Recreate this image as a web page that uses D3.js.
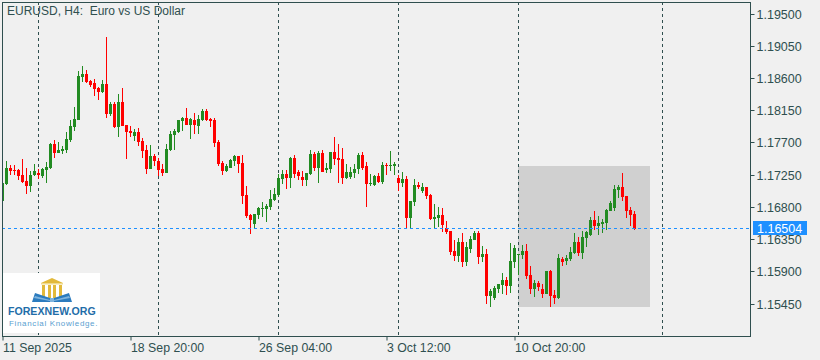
<!DOCTYPE html>
<html><head><meta charset="utf-8">
<script src="https://cdn.jsdelivr.net/npm/d3@7/dist/d3.min.js"></script>
<style>
html,body{margin:0;padding:0;background:#F0F0F0;overflow:hidden}
svg{display:block}
text{font-family:"Liberation Sans",Arial,sans-serif;font-size:12px;fill:#2F4F4F}
</style></head><body>
<svg id="c" width="820" height="360"></svg>
<script>
const symbolTitle = "EURUSD, H4:  Euro vs US Dollar";
const priceTicks = [1.195,1.1905,1.186,1.1815,1.177,1.1725,1.168,1.1635,1.159,1.1545];
const timeTickIndex = [0,32,64,96,128];
const timeTickLabels = ["11 Sep 2025","18 Sep 20:00","26 Sep 04:00","3 Oct 12:00","10 Oct 20:00"];
const periodIndex = [9,39,69,99,129,165];
const boxStartIndex = 129, boxEndIndex = 162, boxHigh = 1.17378, boxLow = 1.15409;
const lastPrice = 1.16504;

const open = [1.16889,1.17127,1.17350,1.17322,1.17322,1.17252,1.17169,1.17099,1.17252,1.17280,1.17238,1.17322,1.17350,1.17685,1.17559,1.17587,1.17601,1.17741,1.17923,1.18020,
1.18620,1.18662,1.18565,1.18537,1.18467,1.18411,1.18523,1.18104,1.18243,1.17923,1.18271,1.17950,1.17867,1.17797,1.17853,1.17727,1.17601,1.17336,1.17518,1.17448,
1.17336,1.17280,1.17601,1.17811,1.17853,1.18006,1.18048,1.17950,1.18020,1.17936,1.18020,1.18146,1.18034,1.18020,1.17713,1.17420,1.17308,1.17350,1.17448,1.17518,
1.17420,1.16973,1.16694,1.16568,1.16694,1.16778,1.16778,1.16805,1.16903,1.16973,1.17196,1.17266,1.17210,1.17490,1.17294,1.17224,1.17182,1.17266,1.17545,1.17350,
1.17559,1.17322,1.17336,1.17573,1.17490,1.17476,1.17210,1.17224,1.17280,1.17336,1.17531,1.17378,1.17127,1.17113,1.17238,1.17155,1.17392,1.17378,1.17378,1.17210,
1.17141,1.17196,1.16652,1.16875,1.17113,1.17029,1.17085,1.16973,1.16638,1.16652,1.16694,1.16512,1.16470,1.16191,1.16121,1.16317,1.16037,1.16219,1.16345,1.16442,
1.16107,1.16149,1.15562,1.15534,1.15660,1.15716,1.15786,1.15702,1.16037,1.16135,1.16135,1.16191,1.15856,1.15660,1.15744,1.15660,1.15590,1.15912,1.15576,1.15534,
1.16079,1.16051,1.16079,1.16163,1.16317,1.16163,1.16373,1.16414,1.16624,1.16540,1.16568,1.16582,1.16750,1.16791,1.17043,1.17085,1.16959,1.16764,1.16708];
const high = [1.17141,1.17448,1.17392,1.17392,1.17336,1.17476,1.17350,1.17308,1.17406,1.17336,1.17350,1.17434,1.17699,1.17741,1.17713,1.17657,1.17853,1.18020,1.18202,1.18704,
1.18774,1.18718,1.18579,1.18593,1.18481,1.18579,1.19179,1.18271,1.18271,1.18383,1.18467,1.17950,1.17936,1.17895,1.17909,1.17769,1.17671,1.17671,1.17545,1.17490,
1.17406,1.17685,1.17867,1.17895,1.18020,1.18062,1.18188,1.18048,1.18118,1.18090,1.18174,1.18174,1.18048,1.18048,1.17741,1.17448,1.17406,1.17476,1.17531,1.17518,
1.17531,1.17099,1.16708,1.16708,1.16805,1.16875,1.16847,1.17043,1.17071,1.17266,1.17322,1.17322,1.17504,1.17531,1.17322,1.17308,1.17280,1.17601,1.17573,1.17587,
1.17601,1.17420,1.17573,1.17783,1.17685,1.17629,1.17406,1.17364,1.17406,1.17559,1.17573,1.17434,1.17266,1.17252,1.17280,1.17434,1.17420,1.17587,1.17434,1.17252,
1.17294,1.17238,1.16889,1.17196,1.17155,1.17141,1.17085,1.16987,1.16847,1.16805,1.16791,1.16610,1.16470,1.16345,1.16373,1.16442,1.16317,1.16400,1.16470,1.16470,
1.16261,1.16219,1.15660,1.15702,1.15730,1.15884,1.15828,1.16303,1.16275,1.16149,1.16275,1.16289,1.15982,1.15786,1.15772,1.15730,1.15912,1.15926,1.15646,1.16149,
1.16107,1.16135,1.16247,1.16442,1.16387,1.16470,1.16470,1.16666,1.16750,1.16680,1.16638,1.16778,1.16889,1.17113,1.17113,1.17280,1.16959,1.16805,1.16750];
const low = [1.16889,1.17113,1.17252,1.17252,1.17182,1.17141,1.16987,1.17015,1.17238,1.17196,1.17210,1.17141,1.17336,1.17490,1.17559,1.17545,1.17559,1.17713,1.17867,1.18020,
1.18551,1.18537,1.18481,1.18355,1.18299,1.18397,1.18048,1.18076,1.17909,1.17783,1.17936,1.17476,1.17783,1.17727,1.17657,1.17490,1.17266,1.17336,1.17378,1.17238,
1.17238,1.17280,1.17587,1.17601,1.17839,1.17867,1.17950,1.17755,1.17825,1.17825,1.18006,1.18006,1.17923,1.17643,1.17378,1.17252,1.17294,1.17350,1.17378,1.17280,
1.16847,1.16652,1.16428,1.16512,1.16638,1.16666,1.16596,1.16764,1.16889,1.16945,1.17127,1.17057,1.17071,1.17210,1.17182,1.17099,1.17099,1.17252,1.17308,1.17141,
1.17294,1.17280,1.17280,1.17392,1.17141,1.17127,1.17196,1.17196,1.17210,1.17266,1.17322,1.16805,1.17099,1.17099,1.17141,1.17127,1.17252,1.17308,1.17252,1.17029,
1.17085,1.16512,1.16512,1.16819,1.17057,1.17001,1.16917,1.16624,1.16512,1.16526,1.16456,1.16428,1.16135,1.16051,1.16037,1.15968,1.15982,1.16163,1.16345,1.16009,
1.16037,1.15451,1.15409,1.15506,1.15604,1.15590,1.15576,1.15604,1.15954,1.15856,1.16079,1.15800,1.15590,1.15548,1.15632,1.15534,1.15590,1.15409,1.15451,1.15520,
1.15982,1.15996,1.16051,1.16149,1.16121,1.16079,1.16247,1.16400,1.16484,1.16414,1.16442,1.16484,1.16750,1.16750,1.16931,1.16889,1.16652,1.16540,1.16484];
const close = [1.17141,1.17350,1.17308,1.17308,1.17238,1.17155,1.17099,1.17252,1.17308,1.17252,1.17336,1.17364,1.17685,1.17559,1.17601,1.17615,1.17755,1.17936,1.18034,1.18634,
1.18662,1.18551,1.18509,1.18453,1.18411,1.18523,1.18104,1.18243,1.17923,1.18271,1.17936,1.17853,1.17839,1.17853,1.17713,1.17587,1.17336,1.17518,1.17448,1.17322,
1.17280,1.17615,1.17825,1.17867,1.18020,1.18048,1.17950,1.18034,1.17950,1.18034,1.18146,1.18020,1.18006,1.17699,1.17406,1.17308,1.17378,1.17462,1.17518,1.17406,
1.16959,1.16680,1.16624,1.16708,1.16791,1.16791,1.16819,1.16917,1.16987,1.17210,1.17266,1.17210,1.17490,1.17266,1.17238,1.17182,1.17280,1.17545,1.17350,1.17559,
1.17294,1.17350,1.17573,1.17476,1.17462,1.17210,1.17294,1.17294,1.17336,1.17531,1.17350,1.17127,1.17141,1.17238,1.17155,1.17392,1.17378,1.17392,1.17406,1.17141,
1.17196,1.16652,1.16889,1.17113,1.17085,1.17085,1.16959,1.16638,1.16666,1.16694,1.16554,1.16456,1.16177,1.16121,1.16317,1.16037,1.16247,1.16359,1.16442,1.16107,
1.16149,1.15562,1.15632,1.15675,1.15730,1.15786,1.15702,1.16051,1.16233,1.16149,1.16191,1.15842,1.15660,1.15744,1.15688,1.15590,1.15912,1.15562,1.15534,1.16093,
1.16037,1.16093,1.16177,1.16317,1.16163,1.16387,1.16456,1.16624,1.16540,1.16582,1.16596,1.16764,1.16861,1.17057,1.17085,1.16945,1.16750,1.16694,1.16504];

const svg = d3.select("#c");
const left = 2, right = 750, top_ = 2, bottom = 336;
const bullColor = "#228B22", bearColor = "#FF0000", axisColor = "#2F4F4F", lastColor = "#1E90FF";

const x = d3.scaleLinear().domain([0,158]).range([2.5,634.5]);
const y = d3.scaleLinear().domain([1.195,1.1545]).range([14,304.2]);
const px = v => Math.round(y(v));

svg.append("defs").append("clipPath").attr("id","plot").append("rect")
  .attr("x",left+1).attr("y",top_+1).attr("width",right-left-1).attr("height",bottom-top_-1);

svg.append("rect").attr("x",Math.floor(x(boxStartIndex))).attr("y",px(boxHigh))
  .attr("width",Math.floor(x(boxEndIndex)-x(boxStartIndex))).attr("height",px(boxLow)-px(boxHigh))
  .attr("fill","#D0D0D0");

svg.append("g").selectAll("line").data(periodIndex).join("line")
  .attr("x1",d=>x(d)).attr("x2",d=>x(d)).attr("y1",top_).attr("y2",bottom)
  .attr("stroke",axisColor).attr("stroke-dasharray","3,3").attr("stroke-width",1);

const idx = d3.range(open.length);
const candles = svg.append("g").attr("clip-path","url(#plot)");
const col = i => close[i] > open[i] ? bullColor : bearColor;
candles.selectAll("rect.w").data(idx).join("rect").attr("class","w")
  .attr("x",i=>x(i)-0.5).attr("width",1)
  .attr("y",i=>px(high[i])).attr("height",i=>Math.max(1,px(low[i])-px(high[i])))
  .attr("fill",col);
candles.selectAll("rect.b").data(idx).join("rect").attr("class","b")
  .attr("x",i=>x(i)-1.5).attr("width",3)
  .attr("y",i=>Math.min(px(open[i]),px(close[i])))
  .attr("height",i=>Math.max(1,Math.abs(px(open[i])-px(close[i]))))
  .attr("fill",col);

const lastY = Math.floor(y(lastPrice))+0.5;
svg.append("line").attr("x1",left).attr("x2",right).attr("y1",lastY).attr("y2",lastY)
  .attr("stroke",lastColor).attr("stroke-dasharray","3,3");

svg.append("rect").attr("x",left+0.5).attr("y",top_+0.5)
  .attr("width",right-left).attr("height",bottom-top_)
  .attr("fill","none").attr("stroke",axisColor);

const yAxis = d3.axisRight(y).tickValues(priceTicks).tickFormat(d3.format(".5f")).tickSize(4).tickPadding(2);
const gy = svg.append("g").attr("transform",`translate(${right+0.5},0)`).call(yAxis);
gy.select(".domain").remove();
gy.selectAll(".tick").attr("transform",d=>`translate(0,${Math.floor(y(d))+0.5})`);
gy.selectAll(".tick line").attr("stroke",axisColor);
gy.selectAll(".tick text").attr("font-family",null).attr("dy","0.32em").attr("y",0.5).style("font-size","12.5px").style("fill",axisColor);

const xAxis = d3.axisBottom(x).tickValues(timeTickIndex).tickFormat((d,i)=>timeTickLabels[i]).tickSize(4).tickPadding(3);
const gx = svg.append("g").attr("transform",`translate(0,${bottom+0.5})`).call(xAxis);
gx.select(".domain").remove();
gx.selectAll(".tick line").attr("stroke",axisColor);
gx.selectAll(".tick text").attr("text-anchor","start").attr("font-family",null).style("font-size","12.3px").style("fill",axisColor);

svg.append("text").attr("x",7).attr("y",15).style("white-space","pre").text(symbolTitle);

const lg = svg.append("g");
lg.append("rect").attr("x",753).attr("y",221).attr("width",54).attr("height",14).attr("fill",lastColor);
lg.append("text").attr("x",757).attr("y",232.5).style("font-size","12.5px").style("fill","#fff").text(d3.format(".5f")(lastPrice));

// publisher logo
const logo = svg.append("g");
logo.append("rect").attr("x",3).attr("y",273).attr("width",97).attr("height",60).attr("fill","#fff");
const gold = "#E2B93B", blue = "#2B7BBE", lblue="#7FB4DE";
logo.append("polygon").attr("points","41,283 52,278 63,283").attr("fill",gold);
logo.append("rect").attr("x",41).attr("y",283).attr("width",22).attr("height",1.5).attr("fill","#F0D98A");
[42,48,53,59].forEach(p=>logo.append("rect").attr("x",p).attr("y",285).attr("width",3).attr("height",13).attr("fill",gold));
logo.append("polygon").attr("points","32,302 35,293 50,298 50,302").attr("fill",blue);
logo.append("polygon").attr("points","72,302 69,293 54,298 54,302").attr("fill",blue);
logo.append("polygon").attr("points","35,296 50,300 50,301 34,298").attr("fill",lblue);
logo.append("polygon").attr("points","69,296 54,300 54,301 70,298").attr("fill",lblue);
logo.append("polygon").attr("points","50,298 54,298 54,302 50,302").attr("fill",lblue);
logo.append("text").attr("x",8).attr("y",315).style("font-size","10.6px").style("font-weight","bold").style("fill","#1F6DA8").text("FOREXNEW.ORG");
logo.append("text").attr("x",9).attr("y",326).style("font-size","8px").style("letter-spacing","0.65px").style("fill","#5AA0D0").text("Financial Knowledge.");
</script>
</body></html>
